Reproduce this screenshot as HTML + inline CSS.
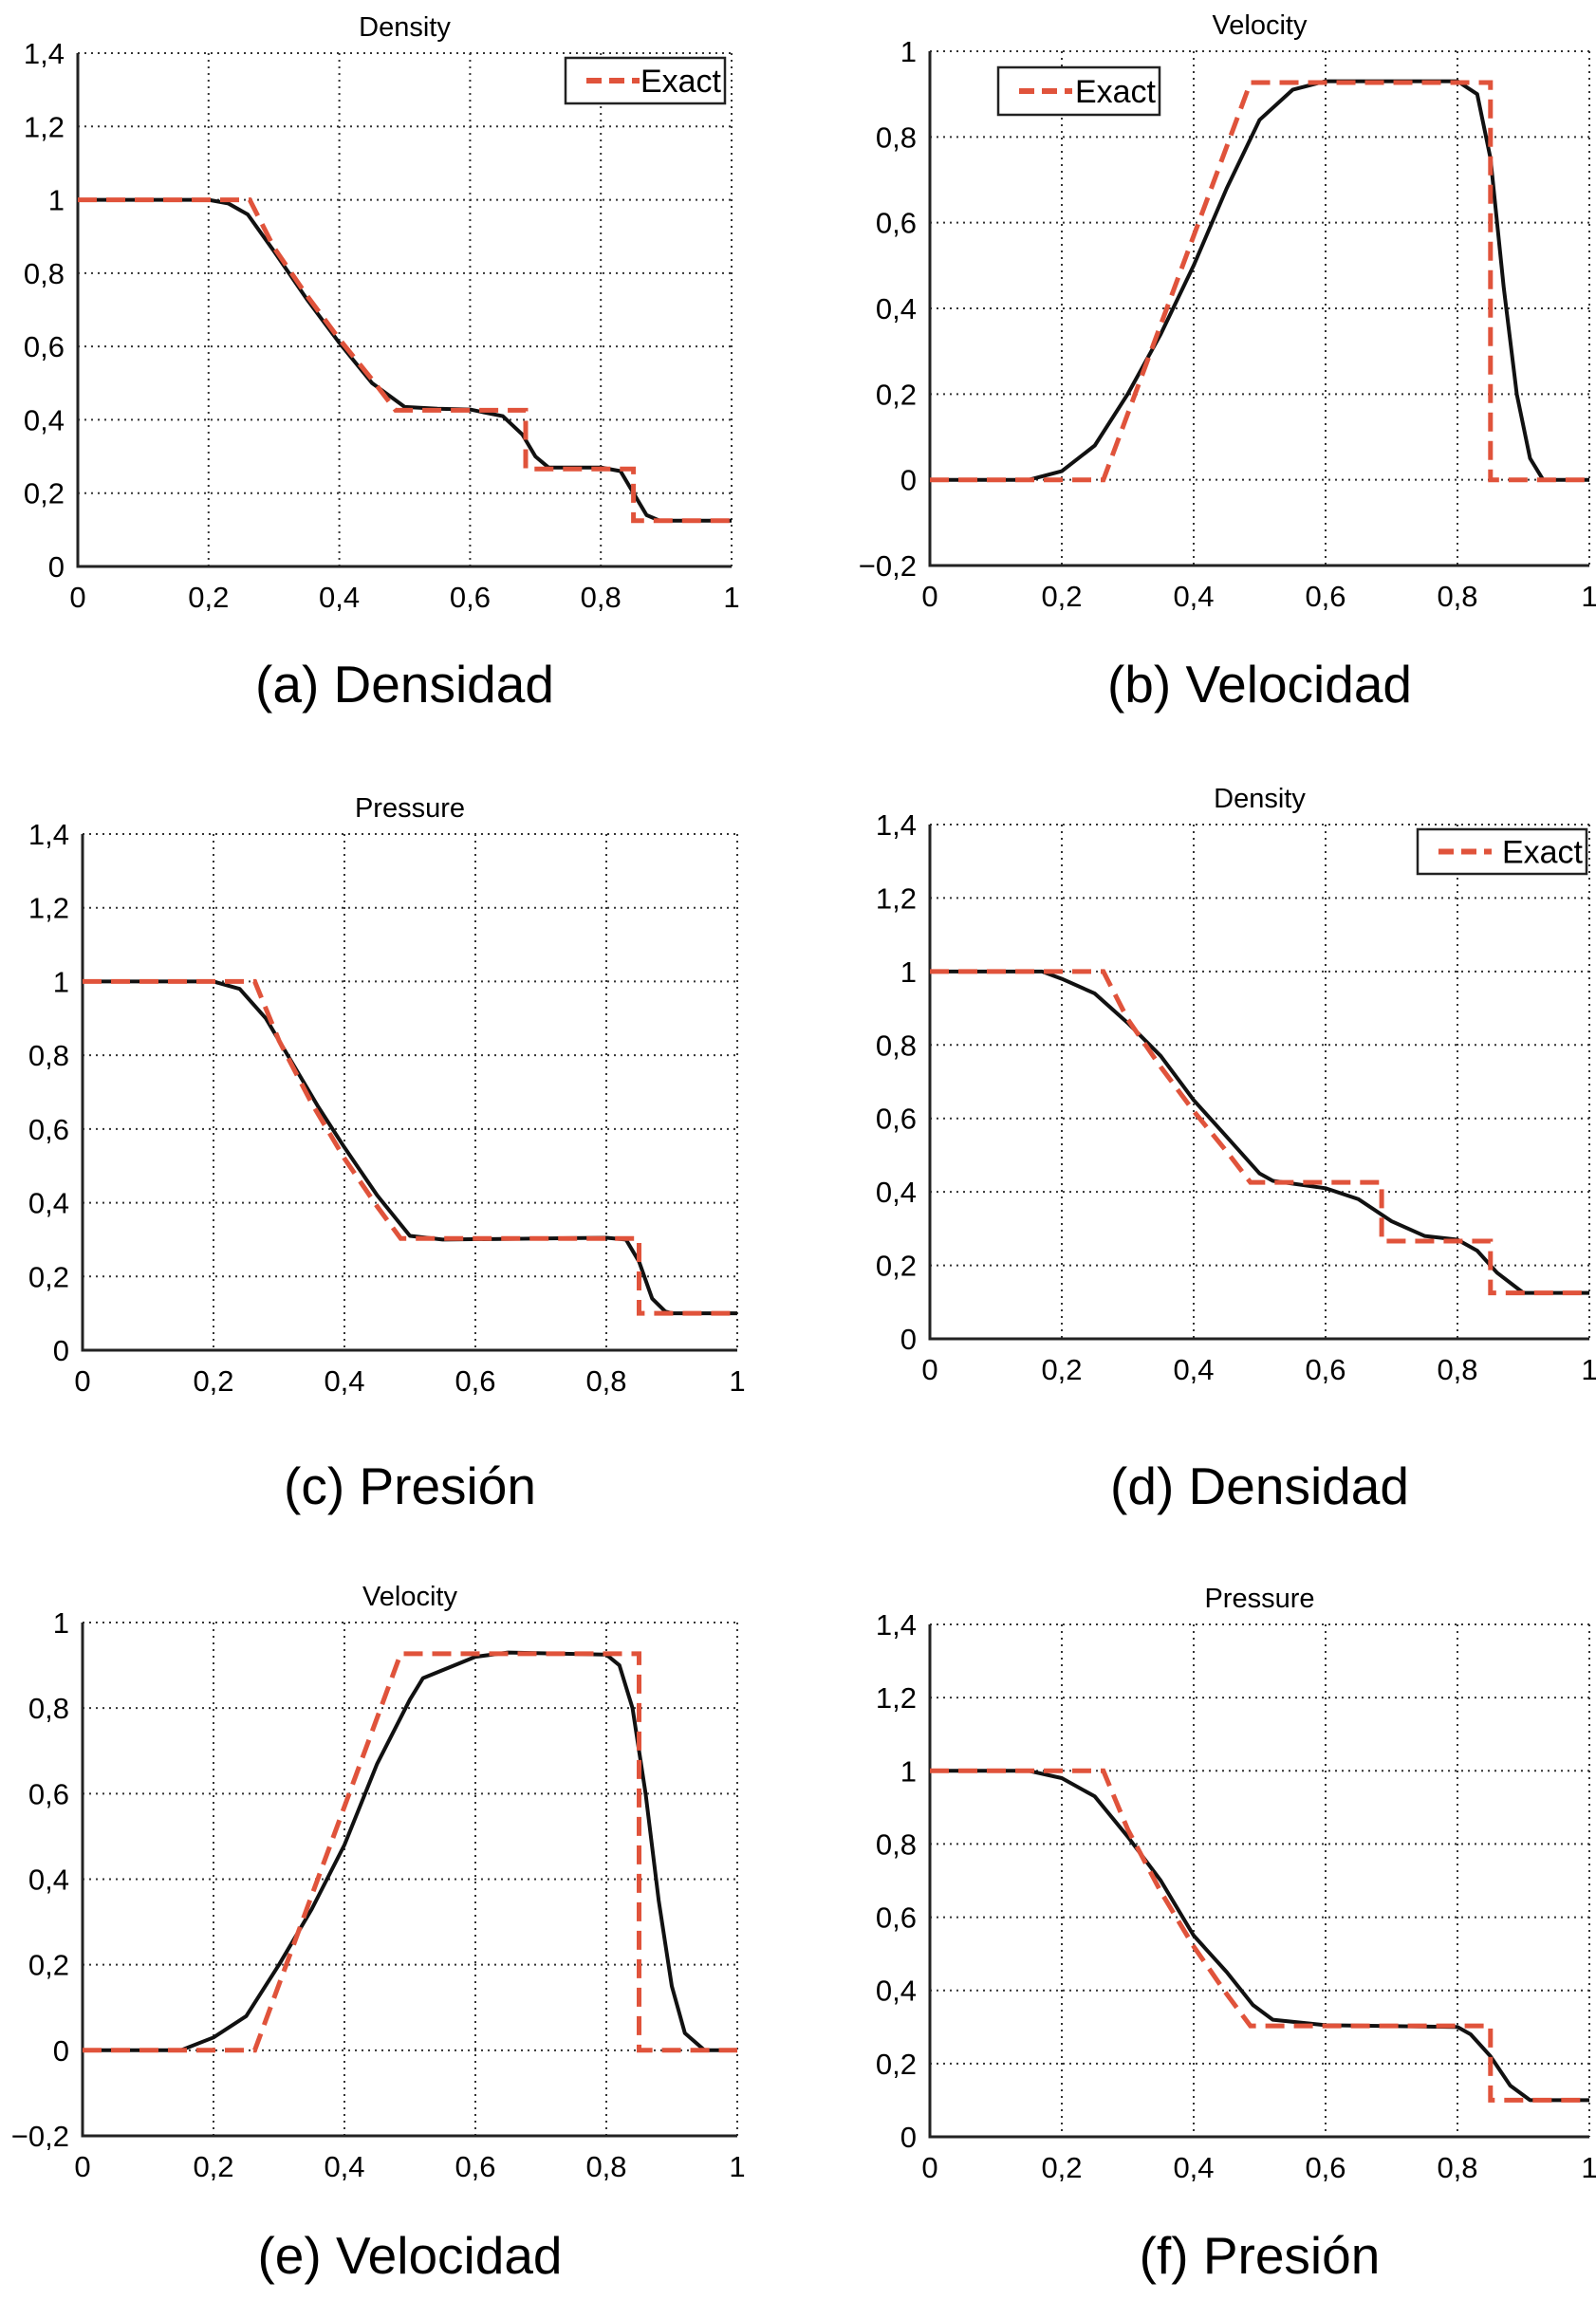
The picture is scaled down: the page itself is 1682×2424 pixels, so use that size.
<!DOCTYPE html>
<html><head><meta charset="utf-8">
<style>
html,body{margin:0;padding:0;background:#fff;}
svg{display:block;font-family:"Liberation Sans",Arial,sans-serif;}
</style></head>
<body>
<svg id="fig" width="1682" height="2424" viewBox="0 0 1682 2424" xmlns="http://www.w3.org/2000/svg"></svg>
<script>
// ---- data ----
const densExactX = [0,0.263,0.3,0.35,0.4,0.45,0.486,0.685,0.685,0.85,0.85,1];
const densExactY = [1,1,0.87,0.74,0.62,0.51,0.426,0.426,0.266,0.266,0.125,0.125];
const presExactX = [0,0.263,0.3,0.35,0.4,0.45,0.486,0.85,0.85,1];
const presExactY = [1,1,0.84,0.67,0.52,0.39,0.303,0.303,0.1,0.1];
const velExactX = [0,0.263,0.486,0.85,0.85,1];
const velExactY = [0,0,0.927,0.927,0,0];

const aNumX = [0,0.2,0.23,0.26,0.3,0.35,0.4,0.45,0.5,0.55,0.6,0.65,0.68,0.7,0.72,0.8,0.83,0.85,0.87,0.89,1];
const aNumY = [1,1,0.99,0.96,0.86,0.73,0.61,0.5,0.435,0.43,0.428,0.41,0.36,0.3,0.27,0.27,0.26,0.2,0.14,0.125,0.125];
const bNumX = [0,0.15,0.2,0.25,0.3,0.35,0.4,0.45,0.5,0.55,0.6,0.8,0.83,0.85,0.87,0.89,0.91,0.93,1];
const bNumY = [0,0,0.02,0.08,0.2,0.34,0.5,0.68,0.84,0.91,0.93,0.93,0.9,0.75,0.45,0.2,0.05,0,0];
const cNumX = [0,0.2,0.24,0.28,0.32,0.36,0.4,0.45,0.5,0.55,0.8,0.83,0.85,0.87,0.89,0.9,1];
const cNumY = [1,1,0.98,0.9,0.78,0.66,0.55,0.42,0.31,0.3,0.305,0.3,0.24,0.14,0.105,0.1,0.1];
const dNumX = [0,0.17,0.2,0.25,0.3,0.35,0.4,0.45,0.5,0.52,0.6,0.65,0.7,0.75,0.8,0.83,0.86,0.9,1];
const dNumY = [1,1,0.98,0.94,0.86,0.77,0.65,0.55,0.45,0.43,0.41,0.38,0.32,0.28,0.27,0.24,0.18,0.125,0.125];
const eNumX = [0,0.15,0.2,0.25,0.3,0.35,0.4,0.45,0.5,0.52,0.6,0.65,0.8,0.82,0.84,0.86,0.88,0.9,0.92,0.95,1];
const eNumY = [0,0,0.03,0.08,0.2,0.33,0.48,0.67,0.82,0.87,0.92,0.93,0.925,0.9,0.8,0.6,0.35,0.15,0.04,0,0];
const fNumX = [0,0.15,0.2,0.25,0.3,0.35,0.4,0.45,0.49,0.52,0.6,0.8,0.82,0.85,0.88,0.91,1];
const fNumY = [1,1,0.98,0.93,0.82,0.7,0.55,0.45,0.36,0.32,0.305,0.3,0.28,0.22,0.14,0.1,0.1];

const xTicks = [0,0.2,0.4,0.6,0.8,1];
const xTickLabels = ["0","0,2","0,4","0,6","0,8","1"];
const yTicksA = [0,0.2,0.4,0.6,0.8,1,1.2,1.4];
const yTickLabelsA = ["0","0,2","0,4","0,6","0,8","1","1,2","1,4"];
const yTicksV = [-0.2,0,0.2,0.4,0.6,0.8,1];
const yTickLabelsV = ["\u22120,2","0","0,2","0,4","0,6","0,8","1"];

const NS = "http://www.w3.org/2000/svg";
const fig = document.getElementById('fig');
function mk(tag, attrs, parent){
  const e = document.createElementNS(NS, tag);
  for (const k in attrs) e.setAttribute(k, attrs[k]);
  (parent||fig).appendChild(e);
  return e;
}

const panels = [
 {id:'a', L:82, R:771, T:56, B:597, ymin:0, ymax:1.4, yt:yTicksA, yl:yTickLabelsA, title:'Density', cap:'(a) Densidad', capY:740,
  ex:densExactX, ey:densExactY, nx:aNumX, ny:aNumY, leg:[596,61,168,48]},
 {id:'b', L:980, R:1675, T:54, B:596, ymin:-0.2, ymax:1, yt:yTicksV, yl:yTickLabelsV, title:'Velocity', cap:'(b) Velocidad', capY:740,
  ex:velExactX, ey:velExactY, nx:bNumX, ny:bNumY, leg:[1052,71,170,50]},
 {id:'c', L:87, R:777, T:879, B:1423, ymin:0, ymax:1.4, yt:yTicksA, yl:yTickLabelsA, title:'Pressure', cap:'(c) Presión', capY:1585,
  ex:presExactX, ey:presExactY, nx:cNumX, ny:cNumY},
 {id:'d', L:980, R:1675, T:869, B:1411, ymin:0, ymax:1.4, yt:yTicksA, yl:yTickLabelsA, title:'Density', cap:'(d) Densidad', capY:1585,
  ex:densExactX, ey:densExactY, nx:dNumX, ny:dNumY, leg:[1494,874,178,47]},
 {id:'e', L:87, R:777, T:1710, B:2251, ymin:-0.2, ymax:1, yt:yTicksV, yl:yTickLabelsV, title:'Velocity', cap:'(e) Velocidad', capY:2396,
  ex:velExactX, ey:velExactY, nx:eNumX, ny:eNumY},
 {id:'f', L:980, R:1675, T:1712, B:2252, ymin:0, ymax:1.4, yt:yTicksA, yl:yTickLabelsA, title:'Pressure', cap:'(f) Presión', capY:2396,
  ex:presExactX, ey:presExactY, nx:fNumX, ny:fNumY}
];

panels.forEach(p=>{
  const g = mk('g',{});
  
  
  const sx = v => p.L + (v-0)*(p.R-p.L);
  const sy = v => p.B - (v-p.ymin)/(p.ymax-p.ymin)*(p.B-p.T);
  xTicks.forEach(t=>{
    const ln = mk('line',{x1:sx(t),x2:sx(t),y1:p.T,y2:p.B,stroke:'#333','stroke-width':2,'stroke-dasharray':'2 5'},g);
    
    
  });
  p.yt.forEach(t=>{
    const ln = mk('line',{x1:p.L,x2:p.R,y1:sy(t),y2:sy(t),stroke:'#333','stroke-width':2,'stroke-dasharray':'2 5'},g);
    
    
  });
  const ax = mk('path',{d:`M${p.L},${p.T} L${p.L},${p.B} L${p.R},${p.B}`,fill:'none',stroke:'#222','stroke-width':3},g);
  
  
  xTicks.forEach((t,i)=>{
    const tx = mk('text',{x:sx(t),y:p.B+43,'font-size':31,'text-anchor':'middle',fill:'#000'},g);
    tx.textContent = xTickLabels[i];
    
    
  });
  p.yt.forEach((t,i)=>{
    const tx = mk('text',{x:p.L-14,y:sy(t)+11,'font-size':31,'text-anchor':'end',fill:'#000'},g);
    tx.textContent = p.yl[i];
    
    
  });
  const ti = mk('text',{x:(p.L+p.R)/2,y:p.T-18,'font-size':29,'text-anchor':'middle',fill:'#000'},g);
  ti.textContent = p.title;
  
  
  const nd = p.nx.map((x,i)=>(i?'L':'M')+sx(x).toFixed(1)+','+sy(p.ny[i]).toFixed(1)).join(' ');
  const nl = mk('path',{d:nd,fill:'none',stroke:'#111','stroke-width':4,'stroke-linejoin':'round'},g);
  
  
  const ed = p.ex.map((x,i)=>(i?'L':'M')+sx(x).toFixed(1)+','+sy(p.ey[i]).toFixed(1)).join(' ');
  const el = mk('path',{d:ed,fill:'none',stroke:'#e0533b','stroke-width':5,'stroke-dasharray':'20 10'},g);
  
  
  if (p.leg){
    const [lx,ly,lw,lh] = p.leg;
    const lg = mk('g',{},g);
    
    
    mk('rect',{x:lx,y:ly,width:lw,height:lh,fill:'#fff',stroke:'#222','stroke-width':2.5},lg);
    mk('line',{x1:lx+22,x2:lx+78,y1:ly+lh/2,y2:ly+lh/2,stroke:'#e0533b','stroke-width':6,'stroke-dasharray':'16 8'},lg);
    const lt = mk('text',{x:lx+lw-4,y:ly+lh/2+12,'font-size':34,'text-anchor':'end',fill:'#000'},lg);
    lt.textContent = 'Exact';
    
    
  }
  const cp = mk('text',{x:(p.L+p.R)/2,y:p.capY,'font-size':55,'text-anchor':'middle',fill:'#000'},g);
  cp.textContent = p.cap;
  
  
});
</script>
</body></html>
